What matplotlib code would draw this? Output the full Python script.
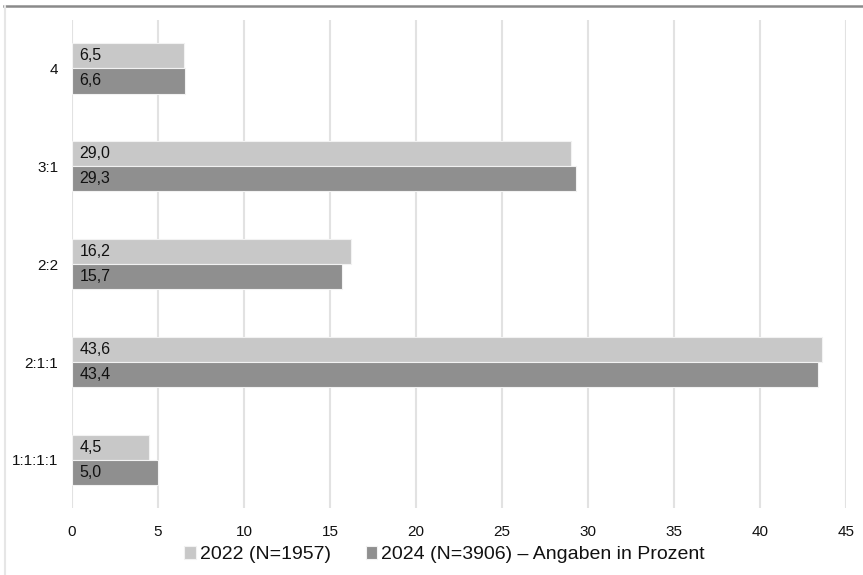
import matplotlib.pyplot as plt
from matplotlib.lines import Line2D
import numpy as np

categories = ["4", "3:1", "2:2", "2:1:1", "1:1:1:1"]
values_2022 = [6.5, 29.0, 16.2, 43.6, 4.5]
values_2024 = [6.6, 29.3, 15.7, 43.4, 5.0]
labels = ["2022 (N=1957)", "2024 (N=3906) – Angaben in Prozent"]
xticks = [0, 5, 10, 15, 20, 25, 30, 35, 40, 45]

plt.rcParams['font.family'] = ['Liberation Sans', 'DejaVu Sans']

fig = plt.figure(figsize=(8.63, 5.75), dpi=100)
ax = fig.add_axes([0.0834, 0.1165, 0.8969, 0.8487])

y = np.arange(len(categories))
h = 0.26
light = "#c8c8c8"
dark = "#8f8f8f"

b1 = ax.barh(y - h / 2, values_2022, height=h, color=light, edgecolor="#f2f2f2",
             linewidth=0.8, label=labels[0], zorder=3)
b2 = ax.barh(y + h / 2, values_2024, height=h, color=dark, edgecolor="#f2f2f2",
             linewidth=0.8, label=labels[1], zorder=3)

for yy, v in zip(y - h / 2, values_2022):
    ax.text(0.45, yy, f"{v:.1f}".replace(".", ","), va="center", ha="left",
            fontsize=11.5, color="#111111", zorder=4)
for yy, v in zip(y + h / 2, values_2024):
    ax.text(0.45, yy, f"{v:.1f}".replace(".", ","), va="center", ha="left",
            fontsize=11.5, color="#111111", zorder=4)

ax.set_xlim(0, 45)
ax.set_ylim(4.49, -0.49)
ax.set_yticks(y)
ax.set_yticklabels(categories, fontsize=11)
ax.set_xticks(xticks)
ax.set_xticklabels([str(t) for t in xticks], fontsize=11)
ax.tick_params(length=0, pad=10, labelcolor="#111111")
ax.tick_params(axis="x", pad=12)
ax.grid(axis="x", color="#e2e2e2", linewidth=1.5, zorder=0)
for s in ax.spines.values():
    s.set_visible(False)

leg = fig.legend(handles=[b1, b2], labels=labels, loc="center",
                 bbox_to_anchor=(0.515, 0.035), ncol=2, frameon=False,
                 fontsize=14, handlelength=0.6, handleheight=0.6,
                 handletextpad=0.2, columnspacing=1.8)
for t in leg.get_texts():
    t.set_color("#111111")

# frame lines along top and left edge
fig.add_artist(Line2D([0.005, 1.0], [0.989, 0.989], color="#8a8a8a", linewidth=1.8,
                      transform=fig.transFigure))
fig.add_artist(Line2D([0.006, 0.006], [0.0, 0.989], color="#e6e6e6", linewidth=1.5,
                      transform=fig.transFigure))

fig.savefig("out.png", dpi=100)
